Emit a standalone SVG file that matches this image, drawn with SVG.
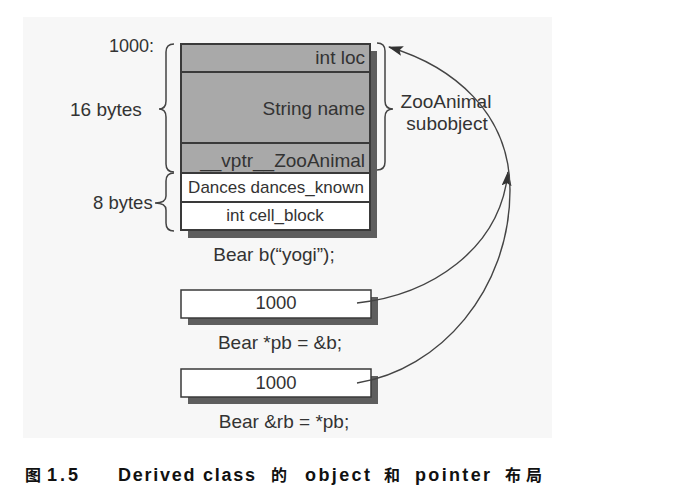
<svg xmlns="http://www.w3.org/2000/svg" width="676" height="488" viewBox="0 0 676 488">
<defs>
<style>
.t{font-family:"Liberation Sans",Arial,sans-serif;fill:#333;}
.big{font-size:19px;}
.sm{font-size:17px;}
.shade{fill:#a9a9a9;stroke:#3a3a3a;stroke-width:2;}
.white{fill:#ffffff;stroke:#3a3a3a;stroke-width:2;}
.shadow{fill:#5e5e5e;}
.brace{fill:none;stroke:#444;stroke-width:1.5;}
.conn{fill:none;stroke:#444;stroke-width:1.4;}
.cap{font-family:"Liberation Sans",Arial,"Noto Sans CJK SC",sans-serif;font-weight:bold;font-size:18px;fill:#111;}
.capc{font-family:"Noto Sans CJK SC",sans-serif;font-weight:bold;font-size:16px;fill:#111;}
</style>
<marker id="ah" markerUnits="userSpaceOnUse" markerWidth="16" markerHeight="10" refX="14" refY="5" orient="auto">
<path d="M0,0 L15,5 L0,10 L3,5 z" fill="#333"/>
</marker>
</defs>
<rect x="0" y="0" width="676" height="488" fill="#ffffff"/>
<rect id="panel" x="23" y="17" width="529" height="421" fill="#f7f7f7"/>

<g id="object-b">
<rect class="shadow" x="188" y="51" width="189" height="187"/>
<rect class="shade" x="181" y="44" width="189" height="28"/>
<rect class="shade" x="181" y="72" width="189" height="71"/>
<rect class="shade" x="181" y="143" width="189" height="30"/>
<rect class="white" x="181" y="173" width="189" height="29"/>
<rect class="white" x="181" y="202" width="189" height="28"/>
<text class="t big" x="365" y="64" text-anchor="end">int loc</text>
<text class="t big" x="365" y="115" text-anchor="end">String name</text>
<text class="t big" x="365" y="167" text-anchor="end">__vptr__ZooAnimal</text>
<text class="t sm" x="276" y="193" text-anchor="middle">Dances dances_known</text>
<text class="t sm" x="275" y="221" text-anchor="middle">int cell_block</text>
<text class="t big" x="274" y="261" text-anchor="middle">Bear b(“yogi”);</text>
</g>

<g id="labels">
<text class="t sm" x="154" y="52" text-anchor="end" style="font-size:18px">1000:</text>
<text class="t big" x="70" y="116">16 bytes</text>
<text class="t" x="93" y="209" style="font-size:18.5px">8 bytes</text>
<path class="brace" d="M174,44 Q166,44 166,52 L166,101 Q166,109 159,109 Q166,109 166,117 L166,164 Q166,172 174,172"/>
<path class="brace" d="M174,173 Q166,173 166,181 L166,196 Q166,203 155,203 Q166,203 166,210 L166,223 Q166,231 174,231"/>
<path class="brace" d="M377,43 Q385,43 385,51 L385,101 Q385,109 393,109 Q385,109 385,117 L385,162 Q385,170 377,170"/>
<text class="t big" x="446" y="108" text-anchor="middle">ZooAnimal</text>
<text class="t big" x="447" y="130" text-anchor="middle">subobject</text>
</g>

<g id="ptr-pb">
<rect class="shadow" x="188" y="297" width="190" height="28"/>
<rect x="181" y="290" width="190" height="28" fill="#ffffff" stroke="#3a3a3a" stroke-width="1.5"/>
<text class="t" x="276" y="309" text-anchor="middle" style="font-size:18.5px">1000</text>
<text class="t big" x="280" y="349" text-anchor="middle">Bear *pb = &amp;b;</text>
</g>

<g id="ptr-rb">
<rect class="shadow" x="188" y="376" width="190" height="28"/>
<rect x="181" y="369" width="190" height="28" fill="#ffffff" stroke="#3a3a3a" stroke-width="1.5"/>
<text class="t" x="276" y="389" text-anchor="middle" style="font-size:18.5px">1000</text>
<text class="t big" x="284" y="428" text-anchor="middle">Bear &amp;rb = *pb;</text>
</g>

<g id="connectors">
<path class="conn" d="M357,303 C430,295 500,250 508,172" marker-end="url(#ah)"/>
<path class="conn" d="M357,383 C440,370 510,290 510,190 C510,112 452,66 389,47" marker-end="url(#ah)"/>
</g>

<g id="caption">
<text class="capc" x="25" y="481">图</text>
<text class="cap" x="47" y="481" textLength="31" lengthAdjust="spacing">1.5</text>
<text class="cap" x="118" y="481" textLength="137" lengthAdjust="spacing">Derived class</text>
<text class="capc" x="271" y="481">的</text>
<text class="cap" x="305" y="481" textLength="65" lengthAdjust="spacing">object</text>
<text class="capc" x="384" y="481">和</text>
<text class="cap" x="415" y="481" textLength="75" lengthAdjust="spacing">pointer</text>
<text class="capc" x="505" y="481" textLength="37" lengthAdjust="spacing">布局</text>
</g>
</svg>
